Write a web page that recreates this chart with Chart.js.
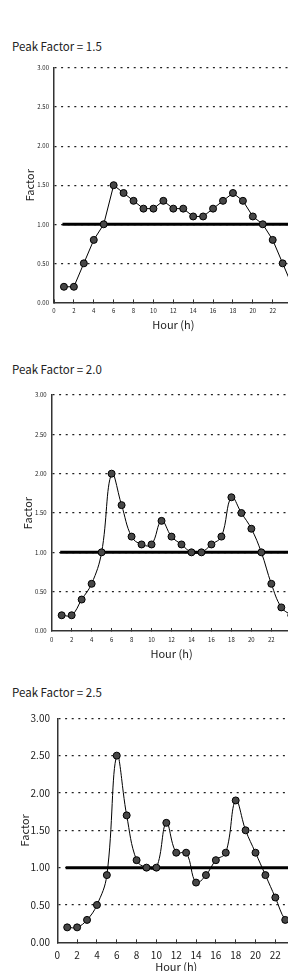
<!DOCTYPE html>
<html>
<head>
<meta charset="utf-8">
<script src="https://cdn.jsdelivr.net/npm/chart.js@4/dist/chart.umd.min.js"></script>
<style>
  html, body { margin: 0; padding: 0; background: #fff; }
  body { position: relative; width: 288px; height: 971px; overflow: hidden; font-family: "Noto Sans CJK JP", sans-serif; }
  .heading { position: absolute; left: 12px; font-size: 11.5px; line-height: 12px; color: #222; white-space: nowrap; }
  canvas { position: absolute; left: 0; }
</style>
</head>
<body>
<div class="heading" id="h1" style="top:40px"></div>
<canvas id="c1"></canvas>
<div class="heading" id="h2" style="top:363px"></div>
<canvas id="c2"></canvas>
<div class="heading" id="h3" style="top:686px"></div>
<canvas id="c3"></canvas>
<script>
// 時刻 (h)
const hours = [1, 2, 3, 4, 5, 6, 7, 8, 9, 10, 11, 12, 13, 14, 15, 16, 17, 18, 19, 20, 21, 22, 23, 24];

// 時間変動係数 (ピーク率ごと)
const pf15 = [0.2, 0.2, 0.5, 0.8, 1.0, 1.5, 1.4, 1.3, 1.2, 1.2, 1.3, 1.2, 1.2, 1.1, 1.1, 1.2, 1.3, 1.4, 1.3, 1.1, 1.0, 0.8, 0.5, 0.2];
const pf20 = [0.2, 0.2, 0.4, 0.6, 1.0, 2.0, 1.6, 1.2, 1.1, 1.1, 1.4, 1.2, 1.1, 1.0, 1.0, 1.1, 1.2, 1.7, 1.5, 1.3, 1.0, 0.6, 0.3, 0.2];
const pf25 = [0.2, 0.2, 0.3, 0.5, 0.9, 2.5, 1.7, 1.1, 1.0, 1.0, 1.6, 1.2, 1.2, 0.8, 0.9, 1.1, 1.2, 1.9, 1.5, 1.2, 0.9, 0.6, 0.3, 0.2];

// 平均 (1.00) の基準線
const refHours = [0.85, 24];
const refFactor = [1, 1];

const headings = ['Peak Factor = 1.5', 'Peak Factor = 2.0', 'Peak Factor = 2.5'];

Chart.defaults.font.family = '"Noto Sans CJK JP", sans-serif';
Chart.defaults.color = '#222';

function drawChart(id, values, smooth, g) {
    const canvas = document.getElementById(id);
    const top = g.plotTop - 12;
    const width = Math.ceil(g.plotRight + 12);
    const height = Math.ceil(g.plotBottom - top + g.xAxisH + 2);
    const padBottom = height - (g.plotBottom - top) - g.xAxisH;
    canvas.width = width;
    canvas.height = height;
    canvas.style.top = top + 'px';
    canvas.style.width = width + 'px';
    canvas.style.height = height + 'px';

    return new Chart(canvas, {
        type: 'line',
        data: {
            datasets: [{
                data: hours.map((h, i) => ({ x: h, y: values[i] })),
                borderColor: '#000',
                borderWidth: 1,
                tension: smooth ? 0.4 : 0,
                pointRadius: 3.5,
                pointBackgroundColor: '#474747',
                pointBorderColor: '#000',
                pointBorderWidth: 1
            }, {
                data: refHours.map((h, i) => ({ x: h, y: refFactor[i] })),
                borderColor: '#000',
                borderWidth: 3,
                pointRadius: 0
            }]
        },
        options: {
            responsive: false,
            animation: false,
            devicePixelRatio: 1,
            layout: { padding: { top: 12, left: 0, right: width - g.plotRight, bottom: padBottom } },
            plugins: { legend: { display: false }, tooltip: { enabled: false } },
            scales: {
                x: {
                    type: 'linear',
                    min: 0,
                    max: 24,
                    ticks: { stepSize: 2, padding: g.xPad, maxRotation: 0, autoSkip: false, font: { size: g.tickSize } },
                    grid: { display: true, drawOnChartArea: false, drawTicks: true, tickLength: -3, color: '#333' },
                    border: { color: '#333', width: 1.5 },
                    title: { display: true, text: 'Hour (h)', font: { size: 11 }, padding: 0 },
                    afterFit: s => { s.height = g.xAxisH; }
                },
                y: {
                    min: 0,
                    max: 3,
                    ticks: { stepSize: 0.5, padding: g.yPad, font: { size: g.tickSize }, callback: v => v.toFixed(2) },
                    grid: {
                        drawTicks: false,
                        lineWidth: 1.2,
                        color: ctx => (ctx.tick && ctx.tick.value === 0) ? 'rgba(0,0,0,0)' : '#222'
                    },
                    border: { color: '#333', width: 1.5, dash: [2, 4.6] },
                    title: { display: true, text: 'Factor', font: { size: 11 }, padding: { top: g.factorX - 6.6, bottom: 0 } },
                    afterFit: s => { s.width = g.plotLeft; }
                }
            }
        }
    });
}

document.getElementById('h1').textContent = headings[0];
document.getElementById('h2').textContent = headings[1];
document.getElementById('h3').textContent = headings[2];

drawChart('c1', pf15, false, { plotTop: 68.3, plotBottom: 302.7, plotLeft: 54, plotRight: 292.6, xAxisH: 28.9, xPad: 7.4, yPad: 5, tickSize: 6, factorX: 30 });
drawChart('c2', pf20, true, { plotTop: 395, plotBottom: 631, plotLeft: 51.7, plotRight: 291.3, xAxisH: 29.1, xPad: 8, yPad: 5, tickSize: 6, factorX: 28 });
drawChart('c3', pf25, true, { plotTop: 716.7, plotBottom: 942, plotLeft: 57.3, plotRight: 298.8, xAxisH: 31.6, xPad: 10.3, yPad: 7.3, tickSize: 10, factorX: 25 });
</script>
</body>
</html>
